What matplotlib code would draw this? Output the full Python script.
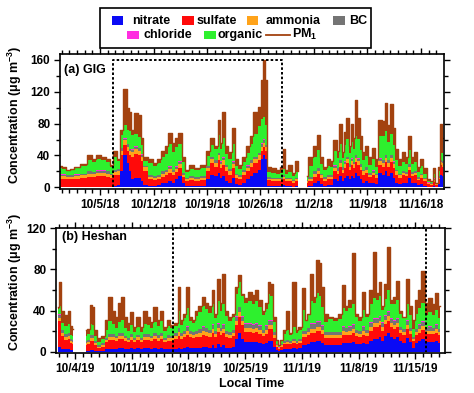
import numpy as np
import matplotlib
matplotlib.use("Agg")
import matplotlib.pyplot as plt
import matplotlib.dates as mdates
from matplotlib.ticker import MultipleLocator
from matplotlib.patches import Rectangle
from matplotlib.lines import Line2D

plt.rcParams['font.family'] = ['Liberation Sans', 'DejaVu Sans']
plt.rcParams['font.weight'] = 'bold'
plt.rcParams['mathtext.fontset'] = 'custom'
plt.rcParams['mathtext.rm'] = 'Liberation Sans:bold'
plt.rcParams['mathtext.bf'] = 'Liberation Sans:bold'
plt.rcParams['mathtext.it'] = 'Liberation Sans:bold'

nan = float('nan')

# ---------------- data ----------------
species = ['nitrate', 'sulfate', 'ammonia', 'BC', 'chloride', 'organic']
species_colors = ['#0A0AF5', '#FF0A0A', '#FFA31A', '#747474', '#FF2EE0', '#2EF02E']
pm_label = r'PM$_{\mathbf{1}}$'
pm_color = '#A3420F'

# Panel (a) GIG 2018 : day offsets from start date (nan = no data)
gig_start = '2018-09-29'
gig_day = [0.8, 1.2, 1.9, 2.3, 2.95, 3.8, 4.7, 5.1,
           5.8, 6.4, 7.1, 7.5, 8.0, 8.4, 8.85, 9.27, 9.7, 9.93,
           10.3, 10.7, 11.15, 11.45, 11.9, 12.76, 13.2, 13.64,
           14.3, 14.7, 15.16, 15.6, 16.03, 16.47, 16.9, 17.34, 18.0, 18.65,
           19.5, 20.18, 20.62, 21.27, 21.49, 21.79, 22.14, 22.58, 23.02, 23.45,
           23.89, 24.32, 24.76, 25.42, 25.85, 26.29, 26.94, 27.29, 27.47, 27.73,
           28.03, 28.7, 29.34, 29.78, 30.0, 30.43, 30.87, 31.31, 31.74, 31.96,
           32.4, 33.05, 33.49, 34.14, 34.58, 35.01, 35.45, 35.89, 36.32, 36.76,
           37.2, 37.41, 37.85, 38.07, 38.37, 38.72, 38.94, 39.25, 39.51, 39.81,
           40.12, 40.47, 40.9, 41.34, 41.78, 42.13, 42.65, 43.09, 43.39,
           43.74, 44.18, 44.39, 44.83, 45.27, 45.7, 46.14, 46.49, 46.93, 47.36,
           47.67, 48.1, 48.54, 48.98, 49.41, 49.72, 50.07, 50.42, 50.63, 50.94]
gig_pm1 = [27, 25, 22, 23, 26, 29, 40, 35,
           40, 38, 35, 28, 46, 35, 72, 124, 100, 95,
           72, 93, 91, 62, 38, 35, 30, 35,
           46, 52, 68, 56, 62, 68, 38, 22, 28, 24,
           28, 46, 62, 52, 84, 56, 95, 52, 44, 75,
           35, 28, 38, 52, 64, 95, 101, 135, 160, 135,
           26, 24, 22, 26, 48, 22, 28, 18, 33, 20,
           nan, 14, 38, 52, 66, 38, 26, 36, 33, 60,
           46, 79, 44, 70, 87, 52, 79, 62, 110, 87,
           64, 44, 52, 38, 49, 35, 85, 83, 106,
           78, 104, 74, 48, 35, 44, 38, 64, 38, 44,
           26, 35, 24, 10, 8, 24, 6, 26, 79, 62]
gig_nitrate = [1, 1, 1, 1, 1, 1, 1, 1,
               1, 1, 1, 1, 2, 3, 20, 40, 30, 20,
               10, 12, 12, 8, 3, 2, 2, 3,
               5, 6, 8, 6, 10, 14, 5, 2, 2, 2,
               2, 10, 16, 14, 18, 12, 14, 8, 6, 12,
               4, 3, 6, 10, 14, 18, 22, 35, 40, 35,
               2, 2, 2, 2, 3, 2, 2, 1, 2, 2,
               nan, 1, 2, 5, 8, 4, 2, 3, 3, 10,
               8, 14, 8, 12, 14, 10, 14, 12, 18, 14,
               10, 6, 8, 5, 6, 4, 18, 16, 20,
               14, 18, 12, 6, 4, 6, 6, 12, 6, 6,
               3, 4, 2, 1, 1, 2, 1, 4, 16, 14]
gig_sulfate = [10, 10, 9, 9, 10, 11, 12, 12,
               13, 13, 12, 11, 13, 13, 20, 13, 15, 20,
               28, 30, 28, 25, 18, 8, 7, 7,
               8, 9, 10, 9, 9, 10, 8, 6, 7, 6,
               7, 10, 14, 12, 16, 12, 14, 12, 10, 12,
               8, 7, 9, 10, 12, 12, 12, 10, 10, 10,
               7, 6, 6, 6, 7, 6, 6, 5, 6, 5,
               nan, 5, 6, 8, 9, 8, 6, 7, 7, 10,
               9, 12, 10, 12, 16, 12, 14, 12, 14, 14,
               12, 10, 10, 8, 9, 8, 10, 10, 12,
               12, 14, 12, 10, 8, 9, 8, 10, 8, 9,
               6, 8, 6, 3, 2, 5, 2, 6, 12, 12]
gig_ammonia = [3, 3, 3, 3, 3, 3, 4, 4,
               4, 4, 4, 3, 4, 4, 6, 6, 6, 5,
               6, 6, 6, 5, 4, 3, 3, 3,
               4, 4, 5, 4, 4, 5, 3, 2, 3, 3,
               3, 4, 5, 5, 6, 5, 6, 5, 4, 5,
               3, 3, 4, 4, 5, 5, 6, 6, 6, 5,
               2, 2, 2, 2, 3, 2, 2, 2, 2, 2,
               nan, 2, 3, 4, 4, 3, 3, 3, 3, 4,
               4, 5, 4, 5, 5, 4, 5, 5, 5, 5,
               4, 4, 4, 3, 3, 3, 5, 5, 5,
               5, 5, 5, 4, 3, 3, 3, 4, 3, 3,
               2, 3, 2, 1, 1, 2, 1, 2, 4, 4]
gig_bc = [2, 2, 2, 2, 2, 2, 3, 2,
          3, 3, 3, 2, 3, 3, 3, 2, 3, 3,
          3, 3, 3, 3, 2, 2, 2, 2,
          3, 3, 3, 3, 3, 3, 2, 2, 2, 2,
          2, 3, 3, 3, 3, 3, 3, 3, 3, 3,
          2, 2, 3, 3, 3, 3, 3, 4, 4, 3,
          2, 2, 2, 2, 2, 2, 2, 1, 2, 1.5,
          nan, 1, 2, 3, 3, 2, 2, 2, 2, 3,
          3, 3, 3, 3, 3, 3, 3, 3, 3, 3,
          3, 2, 3, 2, 3, 2, 3, 3, 3,
          3, 3, 3, 2, 2, 2, 2, 3, 2, 2,
          2, 2, 2, 1, 1, 2, 0.5, 2, 2, 3]
gig_chloride = [0.3, 0.3, 0.3, 0.3, 0.3, 0.3, 0.3, 0.3,
                0.3, 0.3, 0.3, 0.3, 0.3, 0.3, 0.5, 0.5, 0.5, 0.5,
                0.5, 0.5, 0.5, 0.5, 0.3, 0.3, 0.3, 0.3,
                0.3, 0.3, 0.5, 0.3, 0.3, 0.5, 0.3, 0.3, 0.3, 0.3,
                0.3, 0.3, 0.5, 0.5, 0.5, 0.5, 0.5, 0.3, 0.3, 0.5,
                0.3, 0.3, 0.3, 0.5, 0.5, 0.5, 0.5, 0.5, 0.5, 0.5,
                0.3, 0.3, 0.3, 0.3, 0.3, 0.3, 0.3, 0.3, 0.3, 0.3,
                nan, 0.3, 0.3, 0.3, 0.5, 0.3, 0.3, 0.3, 0.3, 0.5,
                0.3, 0.5, 0.3, 0.5, 0.5, 0.3, 0.5, 0.3, 0.5, 0.5,
                0.3, 0.3, 0.3, 0.3, 0.3, 0.3, 0.5, 0.5, 0.5,
                0.5, 0.5, 0.5, 0.3, 0.3, 0.3, 0.3, 0.3, 0.3, 0.3,
                0.3, 0.3, 0.3, 0.3, 0.3, 0.3, 0.2, 0.3, 0.5, 0.5]
gig_organic = [8, 7, 5, 6, 8, 9, 14, 12,
               14, 13, 11, 8, 16, 10, 16, 17, 18, 22,
               18, 16, 14, 12, 6, 15, 12, 15,
               18, 20, 28, 22, 24, 22, 14, 7, 9, 8,
               10, 12, 15, 13, 22, 16, 24, 14, 12, 22,
               10, 8, 10, 16, 20, 28, 34, 30, 28, 25,
               6, 6, 5, 6, 8, 5, 7, 5, 7, 6,
               nan, 4, 14, 18, 22, 12, 8, 12, 10, 18,
               12, 20, 12, 20, 22, 14, 20, 16, 24, 24,
               18, 12, 14, 10, 14, 8, 28, 30, 30,
               22, 26, 20, 12, 9, 11, 10, 18, 10, 12,
               6, 9, 5, 2, 2, 5, 1, 6, 8, 10]

# Panel (b) Heshan 2019
hs_start = '2019-10-01'
hs_day = [0.94, 1.14, 1.43, 1.96, 2.26, 2.5, 2.77, 2.9, 4.32,
          4.65, 4.94, 5.26, 5.47, 5.88, 6.5, 6.9, 7.32, 7.73, 8.14,
          8.56, 8.84, 9.17, 9.58, 9.91, 10.33, 10.74, 11.23, 11.64, 12.05,
          12.47, 12.88, 13.29, 13.7, 14.12, 14.53, 14.94, 15.55, 15.84, 16.17,
          16.58, 16.91, 17.2, 17.6, 18.02, 18.43, 18.84, 19.25, 19.66, 20.07,
          20.36, 20.7, 21.02, 21.31, 21.72, 22.14, 22.55, 22.96, 23.25, 23.66,
          24.07, 24.62, 25.03, 25.44, 25.85, 26.26, 26.67, 26.96, 27.29, 27.62,
          27.91, 28.12, 28.53, 28.94, 29.23, 29.56, 30.09, 30.38, 30.79, 31.2,
          31.49, 31.82, 32.23, 32.64, 32.97, 33.26, 33.55, 33.88, 34.49, 35.11,
          35.73, 36.14, 36.55, 36.96, 37.37, 37.66, 38.2, 38.61, 39.02, 39.64,
          40.05, 40.38, 40.67, 40.95, 41.28, 41.78, 42.1, 42.52, 42.85, 43.14,
          43.55, 44.08, 44.37, 44.78, 45.19, 45.6, 45.89, 46.43, 46.84, 47.25,
          47.66, 48.07]
hs_pm1 = [43, 68, 40, 36, 40, 25, 22, nan, 21,
          22, 45, 43, 21, 13, 15, 31, 53, 40, 34,
          47, 53, 34, 28, 39, 24, 34, 24, 40, 34,
          29, 43, 31, 40, 24, 31, 26, 28, 63, 31,
          37, 63, 34, 31, 40, 44, 53, 47, 44, 60,
          37, 71, 47, 76, 40, 34, 37, 63, 75, 56,
          52, 58, 55, 60, 50, 40, 47, 68, 66, 34,
          11, 6, 11, 21, 40, 18, 68, 21, 24, 62,
          31, 37, 76, 53, 89, 86, 63, 37, 34, 33,
          37, 65, 44, 50, 96, 37, 34, 58, 37, 60,
          97, 57, 68, 44, 66, 102, 50, 53, 69, 40,
          34, 71, 44, 31, 50, 60, 78, 47, 52, 46,
          57, 44]
hs_nitrate = [5, 5, 3, 3, 3, 2, 2, nan, 1,
              1, 2, 2, 1, 1, 1, 3, 3, 3, 3,
              4, 4, 3, 3, 4, 3, 4, 3, 4, 4,
              3, 4, 3, 4, 3, 3, 3, 3, 4, 3,
              4, 5, 4, 4, 4, 4, 5, 5, 4, 6,
              4, 7, 5, 6, 4, 4, 5, 12, 18, 12,
              9, 9, 9, 9, 8, 7, 8, 10, 10, 5,
              2, 1, 2, 3, 3, 3, 4, 3, 4, 6,
              6, 7, 9, 9, 10, 10, 8, 6, 6, 6,
              6, 8, 8, 8, 9, 7, 7, 8, 7, 10,
              12, 12, 14, 10, 15, 18, 14, 12, 14, 10,
              8, 13, 9, 4, 8, 10, 12, 9, 9, 9,
              10, 8]
hs_sulfate = [25, 25, 12, 8, 9, 6, 5, nan, 5,
              6, 8, 8, 5, 3, 4, 6, 8, 8, 7,
              8, 8, 7, 6, 7, 6, 7, 6, 7, 7,
              7, 8, 7, 8, 6, 7, 7, 9, 11, 9,
              10, 11, 10, 9, 10, 10, 11, 10, 10, 12,
              10, 12, 11, 12, 10, 9, 10, 14, 16, 14,
              10, 10, 9, 10, 9, 8, 9, 12, 12, 8,
              3, 2, 3, 4, 4, 4, 4, 4, 4, 8,
              8, 9, 9, 9, 10, 10, 9, 7, 7, 7,
              7, 8, 8, 8, 9, 8, 7, 8, 8, 10,
              12, 12, 12, 10, 12, 12, 10, 10, 10, 8,
              8, 9, 8, 6, 8, 8, 9, 8, 8, 8,
              8, 8]
hs_ammonia = [3, 3, 3, 3, 3, 2, 2, nan, 2,
              2, 3, 3, 2, 1, 1, 2, 3, 3, 3,
              3, 3, 3, 2, 3, 2, 3, 2, 3, 3,
              3, 3, 3, 3, 2, 3, 3, 3, 4, 3,
              3, 4, 3, 3, 3, 4, 4, 4, 4, 4,
              3, 4, 4, 4, 3, 3, 3, 4, 5, 4,
              4, 4, 4, 4, 4, 3, 4, 4, 4, 3,
              1, 0.5, 1, 1, 2, 1, 2, 1, 2, 3,
              3, 3, 4, 4, 4, 4, 4, 3, 3, 3,
              3, 4, 3, 4, 4, 3, 3, 4, 3, 4,
              4, 4, 4, 4, 4, 5, 4, 4, 4, 3,
              3, 4, 3, 2, 3, 4, 4, 3, 3, 3,
              4, 3]
hs_bc = [3, 3, 3, 3, 3, 2, 2, nan, 2,
         2, 3, 3, 2, 1, 2, 2, 3, 3, 2,
         3, 3, 2, 2, 3, 2, 2, 2, 3, 3,
         2, 3, 3, 3, 2, 3, 2, 3, 4, 3,
         3, 4, 3, 3, 3, 4, 4, 4, 3, 4,
         3, 4, 3, 4, 3, 3, 3, 4, 4, 4,
         4, 4, 4, 4, 4, 3, 4, 4, 4, 3,
         1, 0.5, 1, 2, 2, 2, 2, 2, 2, 3,
         3, 4, 5, 5, 5, 5, 4, 3, 3, 3,
         3, 4, 4, 4, 4, 3, 3, 4, 3, 4,
         4, 4, 4, 4, 4, 4, 4, 4, 4, 3,
         3, 4, 3, 2, 3, 4, 4, 3, 4, 3,
         4, 3]
hs_chloride = [0.5, 0.5, 0.5, 0.5, 0.5, 0.3, 0.3, nan, 0.3,
               0.3, 0.5, 0.5, 0.3, 0.3, 0.3, 0.3, 0.5, 0.5, 0.3,
               0.5, 0.5, 0.3, 0.3, 0.3, 0.3, 0.3, 0.3, 0.3, 0.3,
               0.3, 0.5, 0.3, 0.5, 0.3, 0.3, 0.3, 0.3, 0.5, 0.3,
               0.3, 0.5, 0.3, 0.3, 0.5, 0.5, 0.5, 0.5, 0.5, 0.5,
               0.3, 0.5, 0.5, 0.5, 0.3, 0.3, 0.3, 0.5, 0.5, 0.5,
               0.5, 0.5, 0.5, 0.5, 0.5, 0.3, 0.5, 0.5, 0.5, 0.3,
               0.2, 0.1, 0.2, 0.3, 0.3, 0.3, 0.3, 0.3, 0.3, 0.5,
               0.3, 0.5, 0.5, 0.5, 0.5, 0.5, 0.5, 0.3, 0.3, 0.3,
               0.3, 0.5, 0.5, 0.5, 0.5, 0.3, 0.3, 0.5, 0.3, 0.5,
               0.5, 0.5, 0.5, 0.5, 0.5, 0.5, 0.5, 0.5, 0.5, 0.3,
               0.3, 0.5, 0.3, 0.3, 0.3, 0.5, 0.5, 0.3, 0.5, 0.3,
               0.5, 0.3]
hs_organic = [5, 8, 6, 7, 8, 4, 4, nan, 5,
              6, 10, 9, 5, 3, 4, 8, 12, 9, 8,
              10, 12, 8, 7, 9, 6, 8, 6, 10, 9,
              8, 10, 9, 11, 7, 9, 8, 7, 16, 8,
              12, 18, 10, 9, 14, 16, 20, 18, 16, 20,
              12, 22, 16, 20, 14, 11, 12, 22, 24, 20,
              20, 22, 20, 22, 18, 14, 16, 26, 24, 10,
              3, 1.5, 3, 7, 10, 6, 12, 8, 9, 20,
              10, 12, 22, 20, 28, 25, 18, 10, 12, 11,
              12, 18, 16, 18, 20, 12, 10, 16, 12, 18,
              20, 18, 20, 12, 16, 20, 14, 16, 18, 12,
              10, 16, 12, 8, 14, 16, 18, 12, 14, 12,
              14, 10]

gig_tick_dates = ['2018-10-05', '2018-10-12', '2018-10-19', '2018-10-26',
                  '2018-11-02', '2018-11-09', '2018-11-16']
gig_tick_labels = ['10/5/18', '10/12/18', '10/19/18', '10/26/18',
                   '11/2/18', '11/9/18', '11/16/18']
hs_tick_dates = ['2019-10-04', '2019-10-11', '2019-10-18', '2019-10-25',
                 '2019-11-01', '2019-11-08', '2019-11-15']
hs_tick_labels = ['10/4/19', '10/11/19', '10/18/19', '10/25/19',
                  '11/1/19', '11/8/19', '11/15/19']

# ---------------- layout ----------------
W, H = 474, 393
fig = plt.figure(figsize=(W / 100, H / 100), dpi=100)


def ax_rect(l, r, t, b):
    return [l / W, 1 - b / H, (r - l) / W, (b - t) / H]


def draw_panel(ax, start, day, comps, pm1, xlim_days, ylim, yticks,
               tick_dates, tick_labels, box_days, box_top, title):
    t0 = mdates.date2num(np.datetime64(start))
    x = t0 + np.array(day, float)
    stack = np.vstack([np.array(c, float) for c in comps])
    tops = np.cumsum(stack, axis=0)
    bottoms = np.vstack([np.zeros(len(day)), tops[:-1]])
    pm = np.array(pm1, float)
    total = tops[-1]
    valid = np.flatnonzero(~np.isnan(pm) & ~np.isnan(total))
    runs = np.split(valid, np.where(np.diff(valid) > 1)[0] + 1)
    for r in runs:
        for b, t, col in zip(bottoms, tops, species_colors):
            ax.fill_between(x[r], b[r], t[r], color=col, linewidth=0, step='mid')
        ax.fill_between(x[r], total[r], pm[r], where=pm[r] >= total[r],
                        step='mid', color=pm_color, linewidth=0)
        ax.plot(x[r], pm[r], color=pm_color, lw=1.0, drawstyle='steps-mid')
    # dotted box
    bx0, bx1 = t0 + box_days[0], t0 + box_days[1]
    ax.plot([bx0, bx0, bx1, bx1], [0, box_top, box_top, 0], color='black',
            lw=1.4, linestyle=(0, (1.3, 1.1)), zorder=5, clip_on=False)
    ax.set_xlim(t0 + xlim_days[0], t0 + xlim_days[1])
    ax.set_ylim(*ylim)
    ax.set_yticks(yticks)
    ax.yaxis.set_minor_locator(MultipleLocator(20))
    ax.set_xticks([mdates.date2num(np.datetime64(d)) for d in tick_dates])
    ax.set_xticklabels(tick_labels)
    ax.xaxis.set_minor_locator(mdates.DayLocator())
    ax.tick_params(which='both', direction='out', top=True, right=True,
                   labeltop=False, labelright=False, width=1.0,
                   labelsize=8.5, pad=2.5)
    ax.tick_params(which='major', length=4.5)
    ax.tick_params(which='minor', length=2.8)
    for lab in ax.get_xticklabels() + ax.get_yticklabels():
        lab.set_fontweight('bold')
    for s in ax.spines.values():
        s.set_linewidth(1.2)
    ax.text(title[1], title[2], title[0], transform=ax.transAxes,
            fontsize=9, fontweight='bold', va='center', ha='left')


ax_a = fig.add_axes(ax_rect(60, 443.5, 54.3, 189.3))
draw_panel(ax_a, gig_start, gig_day,
           [gig_nitrate, gig_sulfate, gig_ammonia, gig_bc, gig_chloride, gig_organic],
           gig_pm1, (0.76, 50.96), (-2.5, 167), [0, 40, 80, 120, 160],
           gig_tick_dates, gig_tick_labels, (7.74, 29.86), 160,
           ('(a) GIG', 0.01, 0.88))

ax_b = fig.add_axes(ax_rect(56, 445, 227.7, 353.3))
draw_panel(ax_b, hs_start, hs_day,
           [hs_nitrate, hs_sulfate, hs_ammonia, hs_bc, hs_chloride, hs_organic],
           hs_pm1, (0.65, 48.68), (-1.6, 120.6), [0, 40, 80, 120],
           hs_tick_dates, hs_tick_labels, (15.14, 46.33), 120,
           ('(b) Heshan', 0.015, 0.928))

ylabel = r'Concentration (μg m$^{\mathbf{-3}}$)'
fig.text(15 / W, 1 - 114.5 / H, ylabel, rotation=90, ha='center', va='center',
         fontsize=9, fontweight='bold')
fig.text(15 / W, 1 - 282 / H, ylabel, rotation=90, ha='center', va='center',
         fontsize=9, fontweight='bold')
fig.text(252 / W, 1 - 384 / H, 'Local Time', ha='center', va='center',
         fontsize=9, fontweight='bold')

# ---------------- legend (manual) ----------------
fig.patches.append(Rectangle((100 / W, 1 - 47.7 / H), 271 / W, 39.4 / H,
                             transform=fig.transFigure, fill=False,
                             edgecolor='black', linewidth=1.2))
sq_left = [112, 182, 247, 333, 127, 204]
txt_left = [132, 197, 266, 349, 143, 218]
row_y = [20.5, 20.5, 20.5, 20.5, 35, 35]
for name, col, sx, tx, ry in zip(species, species_colors, sq_left, txt_left, row_y):
    fig.patches.append(Rectangle((sx / W, 1 - (ry + 4.2) / H), 11.5 / W, 8.5 / H,
                                 transform=fig.transFigure, facecolor=col,
                                 edgecolor='none'))
    fig.text(tx / W, 1 - ry / H, name, ha='left', va='center', fontsize=9,
             fontweight='bold')
fig.lines.append(Line2D([266 / W, 290 / W], [1 - 35 / H, 1 - 35 / H],
                        transform=fig.transFigure, color=pm_color, lw=1.3))
fig.text(292 / W, 1 - 34 / H, pm_label, ha='left', va='center', fontsize=9,
         fontweight='bold')

fig.savefig('out.png', dpi=100)
